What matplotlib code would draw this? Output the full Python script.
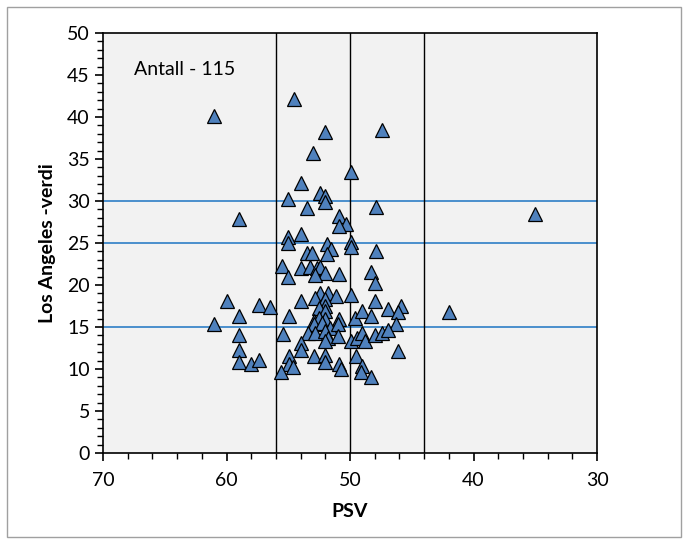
import matplotlib
matplotlib.use("Agg")
import matplotlib.pyplot as plt
from matplotlib.patches import Rectangle
from matplotlib.ticker import MultipleLocator

plt.rcParams['font.family'] = ['Lato', 'DejaVu Sans']

psv = [
    61.0, 59.0, 60.0, 57.4, 56.5, 59.0, 61.0, 59.0, 59.0, 59.0, 58.0, 57.4,
    42.0, 35.0,
    54.5, 52.0, 47.4, 53.0, 49.9, 54.0, 55.0, 52.4, 52.0, 52.0, 53.5, 47.9,
    50.9, 50.3, 50.9, 55.0, 54.0,
    55.0, 51.9, 51.5, 51.9, 49.9, 49.9, 47.9, 53.5, 53.1, 55.5, 54.0, 53.2,
    52.7, 52.4, 52.0, 52.8, 50.9, 48.3, 48.0, 55.0,
    52.4, 51.8, 51.1, 52.8, 52.0, 52.0, 52.5, 49.9, 54.0, 48.0, 46.9, 45.9,
    46.1, 52.0,
    54.9, 52.9, 52.5, 52.0, 50.9, 49.6, 49.0, 48.3, 46.3,
    52.9, 52.3, 51.6, 51.0, 55.4, 53.4, 52.8, 52.0, 51.8, 51.0, 52.0, 49.9,
    49.4, 49.0, 48.8, 48.0, 47.4, 46.9, 54.0, 54.0, 54.9, 54.9, 54.6, 55.6,
    52.9, 52.0, 52.0, 50.9, 50.7, 49.5, 49.0, 49.1, 48.3, 46.1,
]
la_score = [
    40.1, 27.8, 18.1, 17.6, 17.4, 16.3, 15.3, 14.0, 12.3, 10.8, 10.6, 11.1,
    16.8, 28.4,
    42.1, 38.2, 38.5, 35.7, 33.5, 32.2, 30.2, 30.9, 30.6, 29.9, 29.2, 29.3,
    28.2, 27.3, 27.0, 25.7, 26.1,
    25.0, 24.9, 24.3, 23.7, 25.1, 24.5, 24.0, 23.8, 23.8, 22.3, 22.0, 22.2,
    22.0, 22.2, 21.4, 21.2, 21.3, 21.5, 20.2, 20.9,
    19.1, 19.0, 18.7, 18.4, 18.3, 17.5, 17.3, 18.8, 18.1, 18.1, 17.1, 17.5,
    16.8, 16.9,
    16.3, 15.7, 16.1, 15.9, 15.9, 16.1, 16.9, 16.3, 15.4,
    15.3, 15.5, 14.9, 15.3, 14.2, 14.3, 14.3, 14.5, 13.7, 13.9, 13.3, 13.3,
    13.7, 14.3, 13.3, 14.1, 14.3, 14.6, 13.1, 12.3, 11.5, 10.6, 10.2, 9.6,
    11.5, 11.7, 10.8, 10.6, 10.0, 11.5, 10.4, 9.6, 9.0, 12.1,
]

h_lines = [15, 25, 30]
v_lines = [56, 50, 44]
annotation = "Antall - 115"

fig = plt.figure(figsize=(6.88, 5.44), dpi=100)
fig.patches.append(Rectangle((7/688, 7/544), 674/688, 530/544, transform=fig.transFigure,
                             fill=False, edgecolor='#A0A0A0', linewidth=1.0))
ax = fig.add_axes([103/688, 1-453/544, 494/688, 420/544])
ax.set_facecolor('#F2F2F2')

for h in h_lines:
    ax.axhline(h, color='#2E7EC6', linewidth=1.2, zorder=1)
for v in v_lines:
    ax.axvline(v, color='black', linewidth=1.0, zorder=1)

ax.plot(psv, la_score, linestyle='none', marker='^', markersize=10,
        markerfacecolor='#4F81BD', markeredgecolor='black', markeredgewidth=0.9, zorder=3)

ax.set_xlim(70, 30)
ax.set_ylim(0, 50)
ax.xaxis.set_major_locator(MultipleLocator(10))
ax.xaxis.set_minor_locator(MultipleLocator(2))
ax.yaxis.set_major_locator(MultipleLocator(5))
ax.yaxis.set_minor_locator(MultipleLocator(1))
ax.tick_params(which='major', direction='out', length=6, width=1.2, labelsize=14, colors='black')
ax.tick_params(which='minor', direction='out', length=4, width=1.0)
ax.tick_params(axis='x', which='major', pad=8)
for s in ax.spines.values():
    s.set_color('black')
    s.set_linewidth(1.2)

ax.set_xlabel('PSV', fontsize=14, fontweight='bold', labelpad=10)
ax.set_ylabel('Los Angeles -verdi', fontsize=14, fontweight='bold', labelpad=8)
ax.text(67.5, 45.6, annotation, fontsize=14, va='center', ha='left')

fig.savefig('out.png', dpi=100)
